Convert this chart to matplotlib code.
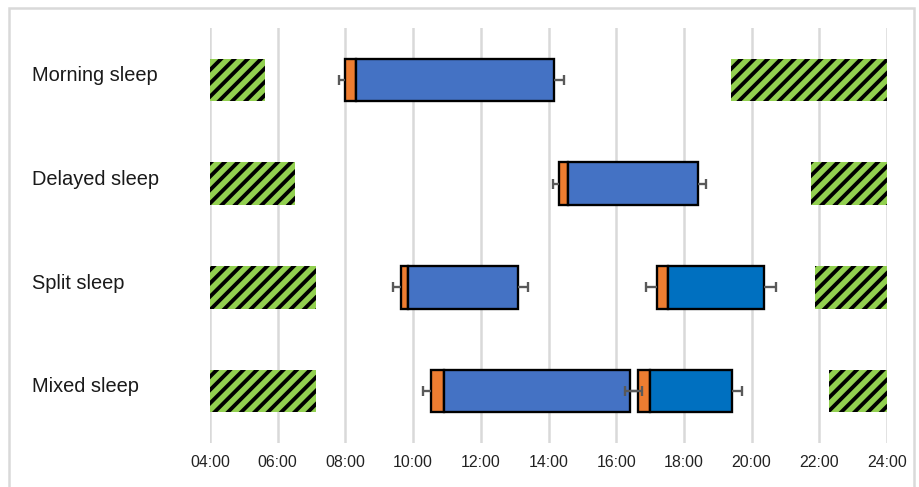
import matplotlib
matplotlib.use("Agg")
import matplotlib.pyplot as plt
from matplotlib.patches import Rectangle
from matplotlib.transforms import blended_transform_factory

plt.rcParams["font.family"] = ["Liberation Sans", "DejaVu Sans"]
plt.rcParams["hatch.linewidth"] = 2.3

# sleep schedules, times in hours of the day
rows = ["Morning sleep", "Delayed sleep", "Split sleep", "Mixed sleep"]

# hatched blocks at both ends of the day
early_end = [5.63, 6.51, 7.14, 7.14]
late_start = [19.40, 21.75, 21.87, 22.29]

# sleep episodes: row index, lights off, sleep onset, wake, whisker low/high
ep_row = [0, 1, 2, 2, 3, 3]
ep_off = [8.00, 14.32, 9.64, 17.22, 10.54, 16.63]
ep_onset = [8.30, 14.58, 9.85, 17.52, 10.90, 17.00]
ep_wake = [14.16, 18.43, 13.11, 20.37, 16.41, 19.43]
ep_lo = [7.82, 14.14, 9.41, 16.87, 10.30, 16.27]
ep_hi = [14.46, 18.65, 13.40, 20.72, 16.76, 19.73]
ep_second = [False, False, False, True, False, True]

hours = list(range(4, 25, 2))
hour_labels = [f"{h:02d}:00" for h in hours]

GREEN = "#92D050"
ORANGE = "#ED7D31"
BLUE = "#4472C4"
BLUE2 = "#0070C0"
GREY = "#595959"
H = 0.41

fig = plt.figure(figsize=(919 / 120, 487 / 120), dpi=120)
fig.patch.set_facecolor("white")
ax = fig.add_axes([210 / 919, 1 - 443 / 487, (887 - 210) / 919, (443 - 28) / 487])

ys = range(len(rows))
ax.barh(ys, [e - 4 for e in early_end], left=4, height=H, color=GREEN,
        edgecolor="black", linewidth=0, hatch="///", zorder=2)
ax.barh(ys, [24 - s for s in late_start], left=late_start, height=H, color=GREEN,
        edgecolor="black", linewidth=0, hatch="///", zorder=2)

for r, a, b, c, sec in zip(ep_row, ep_off, ep_onset, ep_wake, ep_second):
    ax.barh(r, b - a, left=a, height=H, color=ORANGE, edgecolor="black", linewidth=1.4, zorder=3)
    ax.barh(r, c - b, left=b, height=H, color=BLUE2 if sec else BLUE,
            edgecolor="black", linewidth=1.4, zorder=3)

# whiskers out from lights-off and wake
for r, a, c, lo, hi in zip(ep_row, ep_off, ep_wake, ep_lo, ep_hi):
    ax.plot([lo, a], [r, r], color=GREY, lw=1.4, zorder=4, solid_capstyle="butt")
    ax.plot([c, hi], [r, r], color=GREY, lw=1.4, zorder=4, solid_capstyle="butt")
    ax.plot([lo, hi], [r, r], ls="none", marker="|", ms=6, mew=1.4, color=GREY, zorder=4)

ax.set_xlim(4, 24)
ax.set_ylim(3.5, -0.5)
ax.set_xticks(hours)
ax.set_xticklabels(hour_labels, fontsize=9.5, color="#222222")
ax.tick_params(axis="x", length=0, pad=7)
ax.set_yticks([])
ax.grid(axis="x", color="#d9d9d9", lw=1.5, zorder=0)
ax.set_axisbelow(True)
for s in ax.spines.values():
    s.set_visible(False)

label_tr = blended_transform_factory(fig.transFigure, ax.transData)
for i, name in enumerate(rows):
    ax.text(32 / 919, i - 0.04, name, transform=label_tr,
            ha="left", va="center", fontsize=12, color="#1a1a1a")

# light frame round the chart area
fig.patches.append(Rectangle((9 / 919, -0.05), (914 - 9) / 919, 1 - 8 / 487 + 0.05,
                             transform=fig.transFigure, fill=False, ec="#d9d9d9", lw=1.5))

fig.savefig("out.png", dpi=120, facecolor="white")
